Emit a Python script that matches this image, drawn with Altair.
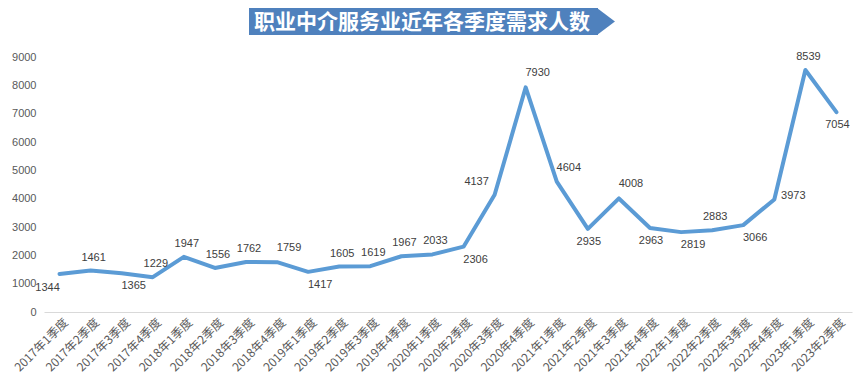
import altair as alt
import pandas as pd

categories = [
    "2017年1季度", "2017年2季度", "2017年3季度", "2017年4季度",
    "2018年1季度", "2018年2季度", "2018年3季度", "2018年4季度",
    "2019年1季度", "2019年2季度", "2019年3季度", "2019年4季度",
    "2020年1季度", "2020年2季度", "2020年3季度", "2020年4季度",
    "2021年1季度", "2021年2季度", "2021年3季度", "2021年4季度",
    "2022年1季度", "2022年2季度", "2022年3季度", "2022年4季度",
    "2023年1季度", "2023年2季度",
]
values = [1344, 1461, 1365, 1229, 1947, 1556, 1762, 1759, 1417, 1605, 1619, 1967, 2033,
          2306, 4137, 7930, 4604, 2935, 4008, 2963, 2819, 2883, 3066, 3973, 8539, 7054]
# label placement code per point (a=above, b=below, r=right, l=left)
label_side = ["bl", "a", "br", "a", "a", "a", "a", "ar", "br", "a", "a", "a", "a",
              "br", "al", "ar", "ar", "b", "ar", "b", "br", "a", "br", "r", "a", "b"]
y_ticks = [0, 1000, 2000, 3000, 4000, 5000, 6000, 7000, 8000, 9000]
title_text = "职业中介服务业近年各季度需求人数"

side_offsets = {
    "a": (3, -13), "ar": (12, -14), "al": (-18, -13),
    "b": (1, 13), "br": (12, 13), "bl": (-12, 14), "r": (19, -3),
}

df = pd.DataFrame({"quarter": categories, "value": values, "side": label_side})

W, H = 808, 255
LINE_COLOR = "#5B9BD5"

x_enc = alt.X("quarter:N", sort=None, title=None,
              axis=alt.Axis(labelAngle=-45, labelFont="Noto Sans CJK SC", labelFontSize=12,
                            labelColor="#595959", ticks=False, domainColor="#D9D9D9",
                            domainWidth=1, labelPadding=8, labelOffset=6, labelAlign="right",
                            labelBaseline="middle", labelOverlap=False))
y_enc = alt.Y("value:Q", title=None,
              scale=alt.Scale(domain=[0, 9000], nice=False),
              axis=alt.Axis(values=y_ticks, format="d", grid=False, domain=False, ticks=False,
                            labelFont="Liberation Sans", labelFontSize=11,
                            labelColor="#595959", labelPadding=8, labelOverlap=False))

base = alt.Chart(df).encode(x=x_enc, y=y_enc)

line = base.mark_line(color=LINE_COLOR, strokeWidth=4, strokeCap="round",
                      strokeJoin="round")

texts = []
for side, (dx, dy) in side_offsets.items():
    texts.append(
        base.transform_filter(alt.datum.side == side)
        .mark_text(dx=dx, dy=dy, font="Liberation Sans", fontSize=11, color="#404040",
                   align="center", baseline="middle")
        .encode(text="value:Q")
    )

banner_rect = alt.Chart(pd.DataFrame({"k": [0]})).mark_rect(color="#4F81BD").encode(
    x=alt.value(205), x2=alt.value(554), y=alt.value(-49), y2=alt.value(-22))
banner_tip = alt.Chart(pd.DataFrame({"k": [0]})).mark_point(
    shape="M0,-1L1.33,0L0,1Z", filled=True, opacity=1, strokeWidth=0,
    color="#4F81BD", size=729).encode(x=alt.value(553), y=alt.value(-35.5))
banner_text = alt.Chart(pd.DataFrame({"k": [0]})).mark_text(
    text=title_text, font="Noto Sans CJK SC", fontSize=21, fontWeight="bold",
    color="white", align="center", baseline="middle").encode(
    x=alt.value(378), y=alt.value(-34))

chart = alt.layer(line, *texts, banner_rect, banner_tip, banner_text).properties(
    width=W, height=H,
    autosize=alt.AutoSizeParams(type="none"),
    padding={"left": 36, "top": 49, "right": 2, "bottom": 64},
).configure_view(stroke=None)

chart.save("out.html", embed_options={"renderer": "svg", "actions": False})
